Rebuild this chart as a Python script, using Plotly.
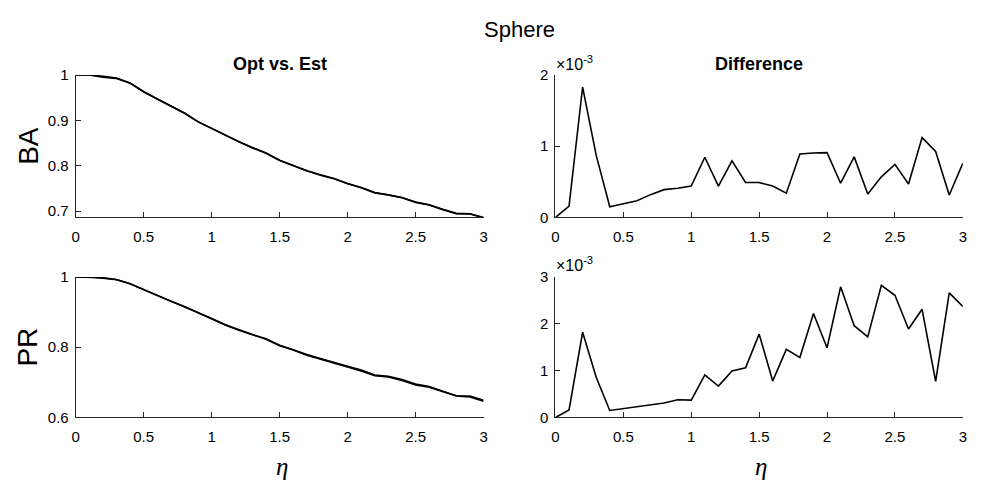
import plotly.graph_objects as go

eta = [round(0.1 * i, 1) for i in range(31)]

# Opt curves
ba_opt = [1.000, 1.000, 0.997, 0.993, 0.982, 0.963, 0.947, 0.931, 0.916, 0.897, 0.882,
          0.867, 0.853, 0.840, 0.828, 0.812, 0.800, 0.789, 0.780, 0.772, 0.761,
          0.752, 0.741, 0.736, 0.730, 0.720, 0.714, 0.704, 0.695, 0.694, 0.686]
pr_opt = [1.000, 1.000, 0.998, 0.993, 0.981, 0.964, 0.948, 0.931, 0.916, 0.898, 0.882,
          0.864, 0.849, 0.836, 0.824, 0.806, 0.793, 0.779, 0.768, 0.758, 0.746,
          0.735, 0.721, 0.717, 0.708, 0.695, 0.688, 0.675, 0.662, 0.661, 0.649]

# Differences in units of 1e-3
ba_diff = [0.00, 0.16, 1.83, 0.87, 0.15, 0.19, 0.235, 0.32, 0.39, 0.41, 0.44,
           0.845, 0.44, 0.795, 0.49, 0.49, 0.44, 0.34, 0.89, 0.905, 0.91,
           0.48, 0.85, 0.33, 0.57, 0.745, 0.47, 1.12, 0.925, 0.315, 0.76]
pr_diff = [0.00, 0.16, 1.82, 0.86, 0.15, 0.19, 0.23, 0.27, 0.31, 0.38, 0.37,
           0.91, 0.67, 0.995, 1.06, 1.78, 0.78, 1.455, 1.28, 2.22, 1.49,
           2.79, 1.96, 1.72, 2.82, 2.61, 1.89, 2.31, 0.77, 2.66, 2.37]
SCALE = 1e-3

ba_est = [o - d * SCALE for o, d in zip(ba_opt, ba_diff)]
pr_est = [o - d * SCALE for o, d in zip(pr_opt, pr_diff)]

xticks = [0, 0.5, 1, 1.5, 2, 2.5, 3]
xticktext = ["0", "0.5", "1", "1.5", "2", "2.5", "3"]

W, H = 981, 486
def px(x): return x / W
def py(y): return 1 - y / H

fig = go.Figure()
line = dict(color="black", width=1.6)
fig.add_trace(go.Scatter(x=eta, y=ba_opt, mode="lines", line=line, xaxis="x", yaxis="y", showlegend=False))
fig.add_trace(go.Scatter(x=eta, y=ba_est, mode="lines", line=line, xaxis="x", yaxis="y", showlegend=False))
fig.add_trace(go.Scatter(x=eta, y=[d * SCALE for d in ba_diff], mode="lines", line=line, xaxis="x2", yaxis="y2", showlegend=False))
fig.add_trace(go.Scatter(x=eta, y=pr_opt, mode="lines", line=line, xaxis="x3", yaxis="y3", showlegend=False))
fig.add_trace(go.Scatter(x=eta, y=pr_est, mode="lines", line=line, xaxis="x3", yaxis="y3", showlegend=False))
fig.add_trace(go.Scatter(x=eta, y=[d * SCALE for d in pr_diff], mode="lines", line=line, xaxis="x4", yaxis="y4", showlegend=False))

axcol = "#262626"
FONT = "Liberation Sans, Arial"
tickfont = dict(family=FONT, size=15, color="black")
def xax(domain, anchor):
    return dict(domain=domain, anchor=anchor, range=[0, 3], tickvals=xticks, ticktext=xticktext,
                ticks="inside", ticklen=5, tickcolor=axcol, showline=True, linecolor=axcol,
                linewidth=1, showgrid=False, zeroline=False, tickfont=tickfont, fixedrange=True,
                ticklabelstandoff=6)
def yax(domain, anchor, rng, tv, tt):
    return dict(domain=domain, anchor=anchor, range=rng, tickvals=tv, ticktext=tt,
                ticks="inside", ticklen=5, tickcolor=axcol, showline=True, linecolor=axcol,
                linewidth=1, showgrid=False, zeroline=False, tickfont=tickfont, fixedrange=True,
                ticklabelstandoff=3)

xl = [px(72.3), px(483.5)]
xr = [px(556), px(966.7)]
yt = [py(216), py(68.3)]
yb = [py(423.3), py(277.7)]

fig.update_layout(
    width=W, height=H, margin=dict(l=0, r=0, t=0, b=0),
    plot_bgcolor="white", paper_bgcolor="white",
    xaxis=xax(xl, "y"),
    yaxis=yax(yt, "x", [min(ba_opt), 1.0], [0.7, 0.8, 0.9, 1.0], ["0.7", "0.8", "0.9", "1"]),
    xaxis2=xax(xr, "y2"),
    yaxis2=yax(yt, "x2", [0, 2 * SCALE], [0, 1 * SCALE, 2 * SCALE], ["0", "1", "2"]),
    xaxis3=xax(xl, "y3"),
    yaxis3=yax(yb, "x3", [0.6, 1.0], [0.6, 0.8, 1.0], ["0.6", "0.8", "1"]),
    xaxis4=xax(xr, "y4"),
    yaxis4=yax(yb, "x4", [0, 3 * SCALE], [0, 1 * SCALE, 2 * SCALE, 3 * SCALE], ["0", "1", "2", "3"]),
)

ann = []
def add(text, x, y, size, xanchor="center", yanchor="middle", angle=0, family=FONT):
    ann.append(dict(text=text, x=px(x), y=py(y), xref="paper", yref="paper", showarrow=False,
                    xanchor=xanchor, yanchor=yanchor, textangle=angle,
                    font=dict(family=family, size=size, color="black")))

add("Sphere", 520, 21, 22)
add("<b>Opt vs. Est</b>", 278, 57, 18)
add("<b>Difference</b>", 761, 57, 18)
add("BA", 24, 142, 28, angle=-90)
add("PR", 24, 350, 28, angle=-90)
add("<i>η</i>", 280, 474, 25, family="Liberation Serif, DejaVu Serif")
add("<i>η</i>", 763, 474, 25, family="Liberation Serif, DejaVu Serif")
add("×10<sup>-3</sup>", 555, 68, 16, xanchor="left", yanchor="bottom")
add("×10<sup>-3</sup>", 555, 277, 16, xanchor="left", yanchor="bottom")
fig.update_layout(annotations=ann)

fig.write_html("out.html", config={"displayModeBar": False},
               post_script="document.body.style.margin='0';document.body.style.overflow='hidden';")
